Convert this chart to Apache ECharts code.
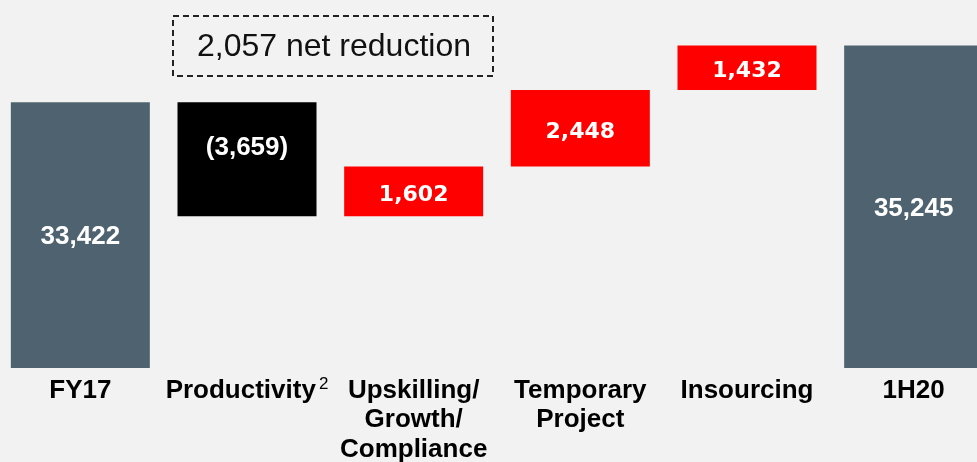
<!DOCTYPE html>
<html>
<head>
<meta charset="utf-8">
<script src="https://cdn.jsdelivr.net/npm/echarts@6/dist/echarts.min.js"></script>
<style>
  html, body { margin: 0; padding: 0; background: #f2f2f2; }
  #chart { width: 977px; height: 462px; }
</style>
</head>
<body>
<div id="chart"></div>
<script>
// headcount bridge FY17 -> 1H20
const categories = ['FY17', 'Productivity', 'Upskilling/\nGrowth/\nCompliance', 'Temporary\nProject', 'Insourcing', '1H20']
const footnotes = ['', '2', '', '', '', '']
const values = [33422, -3659, 1602, 2448, 1432, 35245]
const isTotal = [true, false, false, false, false, true]
const netNote = '2,057 net reduction'

const GREY = '#4e636f'
const RED = '#ff0000'
const BLACK = '#000000'

const fmt = (v) => {
  const s = Math.abs(v).toLocaleString('en-US')
  return v < 0 ? `(${s})` : s
}

// transparent base + visible piece
const base = []
const visible = []
let running = 0
values.forEach((v, i) => {
  if (isTotal[i]) {
    base.push(0)
    visible.push(v)
    running = v
  } else if (v < 0) {
    running += v
    base.push(running)
    visible.push(-v)
  } else {
    base.push(running)
    visible.push(v)
    running += v
  }
})

const visibleData = visible.map((v, i) => {
  const total = isTotal[i]
  const neg = values[i] < 0
  const color = total ? GREY : (neg ? BLACK : RED)
  let label
  if (total) label = { fontFamily: 'Liberation Sans', fontSize: 26, offset: [0, 2] }
  else if (neg) label = { fontFamily: 'Liberation Sans', fontSize: 26, offset: [0, -11] }
  else label = { fontFamily: 'DejaVu Sans', fontSize: 22, offset: [0, 4] }
  return {
    value: v,
    itemStyle: { color },
    label: Object.assign({ formatter: () => fmt(values[i]) }, label)
  }
})

const chart = echarts.init(document.getElementById('chart'), null, { renderer: 'canvas' })

chart.setOption({
  backgroundColor: '#f2f2f2',
  animation: false,
  grid: { left: -3, width: 1000, top: 0, bottom: 94, containLabel: false, outerBoundsMode: 'none' },
  xAxis: {
    type: 'category',
    data: categories,
    axisLine: { show: false },
    axisTick: { show: false },
    axisLabel: {
      interval: 0,
      margin: 8,
      color: '#000',
      fontFamily: 'Liberation Sans',
      fontWeight: 'bold',
      fontSize: 26,
      lineHeight: 29.5,
      formatter: (val, idx) => footnotes[idx] ? `${val}{sup|${footnotes[idx]}}` : val,
      rich: {
        sup: {
          fontFamily: 'Liberation Sans',
          fontSize: 17,
          lineHeight: 18,
          fontWeight: 'normal',
          color: '#000',
          verticalAlign: 'top',
          padding: [0, 0, 0, 3]
        }
      }
    }
  },
  yAxis: {
    type: 'value',
    min: 24900,
    max: 36700,
    show: false,
    splitLine: { show: false }
  },
  graphic: [
    {
      type: 'rect',
      left: 172,
      top: 15,
      shape: { width: 320, height: 60 },
      style: { fill: 'transparent', stroke: '#222', lineWidth: 2, lineDash: [6, 4] }
    },
    {
      type: 'text',
      left: 197,
      top: 31,
      style: {
        text: netNote,
        fill: '#111',
        font: '32px "Liberation Sans"'
      }
    }
  ],
  series: [
    {
      type: 'bar',
      stack: 'w',
      barWidth: '83.4%',
      silent: true,
      itemStyle: { color: 'transparent' },
      data: base
    },
    {
      type: 'bar',
      stack: 'w',
      barWidth: '83.4%',
      label: {
        show: true,
        position: 'inside',
        color: '#fff',
        fontWeight: 'bold'
      },
      data: visibleData
    }
  ]
})
</script>
</body>
</html>
